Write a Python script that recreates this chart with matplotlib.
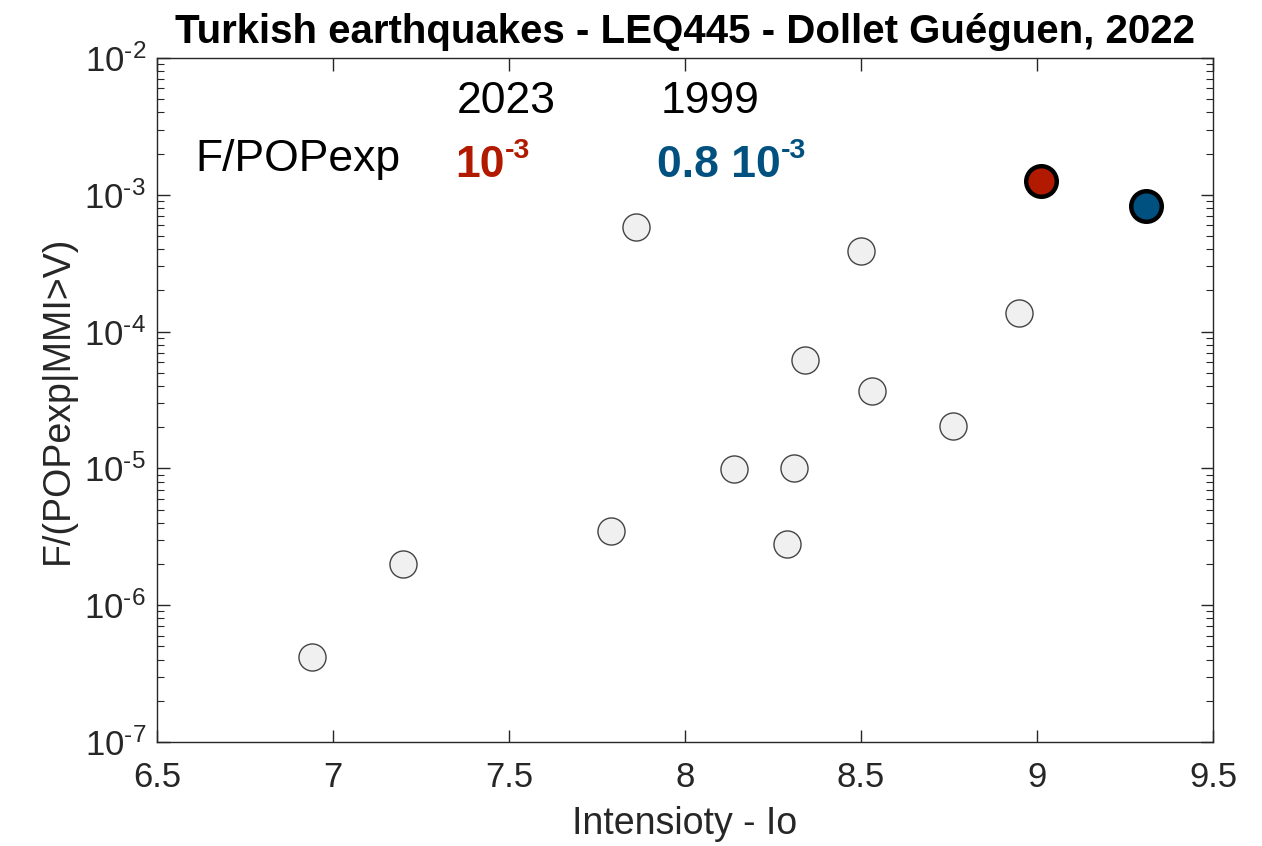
import matplotlib
matplotlib.use("Agg")
import matplotlib.pyplot as plt
from matplotlib.ticker import LogLocator, FixedLocator, NullFormatter
from matplotlib.transforms import IdentityTransform

plt.rcParams['font.family'] = ['Liberation Sans', 'DejaVu Sans']
plt.rcParams['mathtext.fontset'] = 'custom'
plt.rcParams['mathtext.rm'] = 'Liberation Sans'
plt.rcParams['mathtext.default'] = 'regular'

# Data
intensity = [6.94, 7.20, 7.79, 7.86, 8.14, 8.29, 8.31, 8.34, 8.50, 8.53, 8.76, 8.95]
ratio = [4.2e-7, 2.0e-6, 3.5e-6, 5.8e-4, 9.9e-6, 2.8e-6, 1.0e-5, 6.2e-5, 3.9e-4, 3.7e-5, 2.05e-5, 1.37e-4]
eq2023 = (9.01, 1.26e-3)
eq1999 = (9.31, 8.3e-4)
xticks = [6.5, 7, 7.5, 8, 8.5, 9, 9.5]
xticklabels = ['6.5', '7', '7.5', '8', '8.5', '9', '9.5']
yexp = [-7, -6, -5, -4, -3, -2]

RED = '#B21A00'
BLUE = '#00517F'
AX = '#262626'
DPI = 100

fig = plt.figure(figsize=(12.62, 8.46), dpi=DPI)
ax = fig.add_axes([0.1244, 0.1229, 0.8368, 0.8085])

ax.plot(intensity, ratio, 'o', ms=19.5, mfc='#F0F0F0', mec='#444444', mew=1.0, ls='none')
ax.plot([eq2023[0]], [eq2023[1]], 'o', ms=22, mfc=RED, mec='black', mew=3.2)
ax.plot([eq1999[0]], [eq1999[1]], 'o', ms=22, mfc=BLUE, mec='black', mew=3.2)

ax.set_yscale('log')
ax.set_xlim(6.5, 9.5)
ax.set_ylim(1e-7, 1e-2)
ax.set_xticks(xticks)
ax.set_xticklabels(xticklabels)
ax.yaxis.set_major_locator(FixedLocator([10.0**e for e in yexp]))
ax.set_yticklabels([r'$10^{\text{-}%d}$' % abs(e) for e in yexp])
ax.yaxis.set_minor_locator(LogLocator(base=10, subs=range(2, 10), numticks=20))
ax.yaxis.set_minor_formatter(NullFormatter())

ax.tick_params(which='both', direction='in', top=True, right=True, colors=AX,
               labelsize=25, labelcolor=AX)
ax.tick_params(axis='x', which='major', length=9, width=1.0, pad=14)
ax.tick_params(axis='y', which='major', length=9, width=1.0, pad=8)
ax.tick_params(which='minor', length=5, width=0.8)
for s in ax.spines.values():
    s.set_color(AX)
    s.set_linewidth(1.0)

ax.set_xlabel('Intensioty - Io', fontsize=27, color=AX, labelpad=8)
ax.set_ylabel('F/(POPexp|MMI>V)', fontsize=27, color=AX, labelpad=6)
ax.set_title('Turkish earthquakes - LEQ445 - Dollet Guéguen, 2022', fontsize=29,
             fontweight='bold', pad=11)

ax.text(0.331, 0.936, '2023', transform=ax.transAxes, fontsize=32, ha='center', va='center')
ax.text(0.524, 0.936, '1999', transform=ax.transAxes, fontsize=32, ha='center', va='center')
ax.text(0.036, 0.852, 'F/POPexp', transform=ax.transAxes, fontsize=32, ha='left', va='center')

renderer = fig.canvas.get_renderer()


def sup_text(x, y, base, sup, size, color):
    t = ax.text(x, y, base, transform=ax.transAxes, fontsize=size, fontweight='bold',
                ha='left', va='baseline', color=color)
    bb = t.get_window_extent(renderer)
    by = ax.transAxes.transform((x, y))[1]
    ax.text(bb.x1 + 1, by + 0.42 * size * DPI / 72.0, sup, transform=IdentityTransform(),
            fontsize=size * 0.64, fontweight='bold', ha='left', va='baseline', color=color)


sup_text(0.282, 0.826, '10', '-3', 32, RED)
sup_text(0.473, 0.826, '0.8 10', '-3', 32, BLUE)

fig.savefig('out.png', dpi=DPI)
